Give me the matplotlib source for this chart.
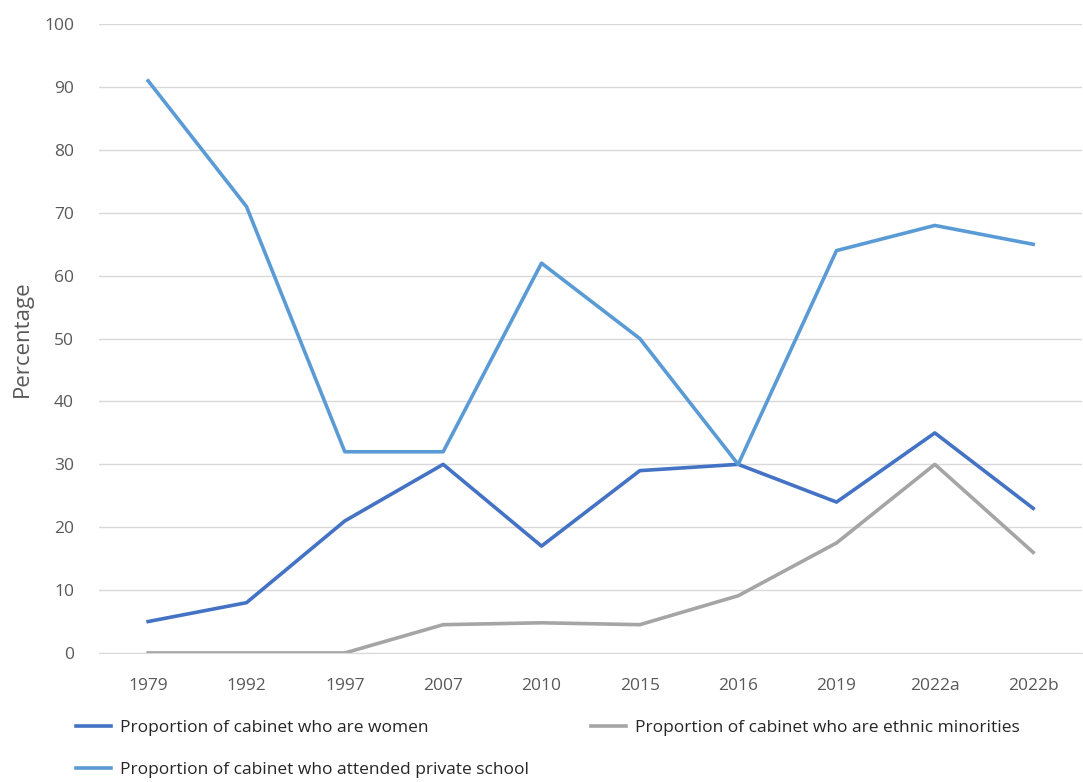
import matplotlib.pyplot as plt

plt.rcParams['font.family'] = ['Open Sans', 'DejaVu Sans']

years = ["1979", "1992", "1997", "2007", "2010", "2015", "2016", "2019", "2022a", "2022b"]
women = [5, 8, 21, 30, 17, 29, 30, 24, 35, 23]
ethnic = [0, 0, 0, 4.5, 4.8, 4.5, 9.1, 17.5, 30, 16]
private_school = [91, 71, 32, 32, 62, 50, 30, 64, 68, 65]

fig = plt.figure(figsize=(10.83, 7.82), dpi=100)
ax = fig.add_axes([0.0914, 0.165, 0.908, 0.804])

x = range(len(years))
l1, = ax.plot(x, women, color="#4472C4", lw=2.6, solid_joinstyle='round', label="Proportion of cabinet who are women")
l2, = ax.plot(x, ethnic, color="#A5A5A5", lw=2.6, solid_joinstyle='round', label="Proportion of cabinet who are ethnic minorities")
l3, = ax.plot(x, private_school, color="#5B9BD5", lw=2.6, solid_joinstyle='round', label="Proportion of cabinet who attended private school")

ax.set_xlim(-0.5, len(years) - 0.5)
ax.set_ylim(0, 100)
ax.set_yticks(range(0, 101, 10))
ax.set_xticks(list(x))
ax.set_xticklabels(years)
ax.grid(axis='y', color="#D9D9D9", lw=1)
ax.set_axisbelow(True)
for s in ["top", "right", "left"]:
    ax.spines[s].set_visible(False)
ax.spines["bottom"].set_color("#D9D9D9")
ax.tick_params(length=0, labelsize=12.5, labelcolor="#595959")
ax.tick_params(axis='x', pad=18)
ax.tick_params(axis='y', pad=18)
ax.set_ylabel("Percentage", fontsize=16, color="#595959", labelpad=8)

leg = fig.legend(handles=[l1, l3, l2], loc="upper left", bbox_to_anchor=(0.056, 0.1), ncol=2,
                 frameon=False, fontsize=12.5, handlelength=2.0, columnspacing=3.6,
                 labelspacing=1.5, handletextpad=0.5)
for t in leg.get_texts():
    t.set_color("#262626")

fig.savefig("out.png", dpi=100)
